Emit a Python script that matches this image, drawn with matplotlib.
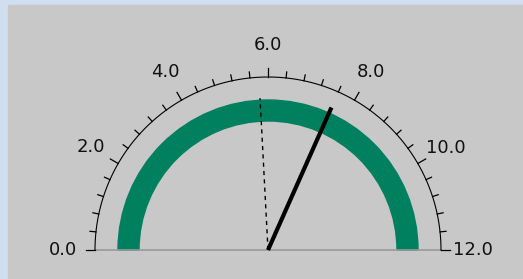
import numpy as np
import matplotlib.pyplot as plt
from matplotlib.patches import Wedge, Rectangle

# Gauge data
scale_min = 0.0
scale_max = 12.0
minor_ticks = np.arange(0, 12.01, 0.4)
label_values = [0.0, 2.0, 4.0, 6.0, 8.0, 10.0, 12.0]
needle_value = 7.6
target_value = 5.8

W, H = 523, 279
cx, cy = 268, 29          # gauge centre (pixel coords, y up)
r_scale = 173
r_band_out, r_band_in = 150, 129


def angle(v):
    # value -> angle in radians, 0 on the left, 12 on the right
    return np.pi * (1 - (v - scale_min) / (scale_max - scale_min))


def pt(v, r):
    a = angle(v)
    return cx + r * np.cos(a), cy + r * np.sin(a)


fig = plt.figure(figsize=(W / 100, H / 100), dpi=100)
fig.patch.set_facecolor('#cfdff0')
ax = fig.add_axes([0, 0, 1, 1])
ax.set_xlim(0, W)
ax.set_ylim(0, H)
ax.axis('off')

# grey panel
ax.add_patch(Rectangle((8, 0), W - 8, H - 5, color='#c8c8c8', zorder=0))

# green band
ax.add_patch(Wedge((cx, cy), r_band_out, 0, 180, width=r_band_out - r_band_in,
                   color='#00805f', zorder=1))

# baseline
ax.plot([cx - r_scale, cx + r_scale], [cy, cy], color='#999999', lw=1.2, zorder=2)

# scale arc
th = np.linspace(0, np.pi, 300)
ax.plot(cx + r_scale * np.cos(th), cy + r_scale * np.sin(th), color='black', lw=0.8, zorder=3)

# ticks
for v in minor_ticks:
    major = abs(v / 2 - round(v / 2)) < 1e-6
    x0, y0 = pt(v, r_scale)
    x1, y1 = pt(v, r_scale + (9 if major else 6))
    ax.plot([x0, x1], [y0, y1], color='black', lw=0.9, zorder=3)

# labels
for v in label_values:
    x, y = pt(v, 205)
    ax.text(x, y, f'{v:.1f}', ha='center', va='center', fontsize=13, color='#111111')

# target (dashed) and needle
x, y = pt(target_value, 152)
ax.plot([cx, x], [cy, y], color='black', lw=1, ls=(0, (3, 3)), zorder=4)
x, y = pt(needle_value, 156)
ax.plot([cx, x], [cy, y], color='black', lw=3, solid_capstyle='butt', zorder=5)

fig.savefig('out.png', dpi=100, facecolor=fig.get_facecolor())
